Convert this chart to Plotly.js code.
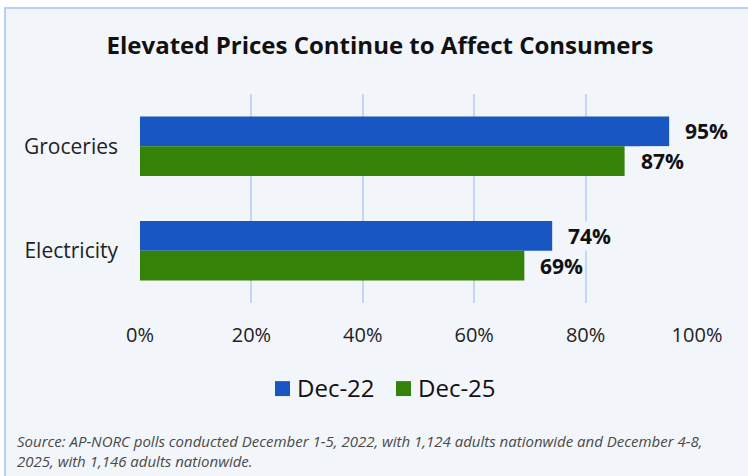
<!DOCTYPE html>
<html>
<head>
<meta charset="utf-8">
<script src="https://cdn.plot.ly/plotly-3.0.1.min.js"></script>
<style>
  html, body { margin: 0; padding: 0; background: #ffffff; width: 748px; height: 476px; overflow: hidden; }
  #frame { position: absolute; left: 4px; top: 7px; width: 760px; height: 490px; background: #f2f5f9; border-left: 2px solid #b7d0f6; border-top: 2px solid #b7d0f6; }
  #chart { position: absolute; left: 0; top: 0; width: 748px; height: 476px; }
</style>
</head>
<body>
<div id="frame"></div>
<div id="chart"></div>
<script>
const categories = ["Groceries", "Electricity"];
const seriesNames = ["Dec-22", "Dec-25"];
const dec22 = [95, 74];
const dec25 = [87, 69];
const tickValues = [0, 20, 40, 60, 80, 100];
const tickLabels = ["0%", "20%", "40%", "60%", "80%", "100%"];
const colors = ["#1857c3", "#348207"];
const titleText = "Elevated Prices Continue to Affect Consumers";
const sourceText = "Source: AP-NORC polls conducted December 1-5, 2022, with 1,124 adults nationwide and December 4-8,<br>2025, with 1,146 adults nationwide.";

const allSeries = [dec22, dec25];
const traces = allSeries.map((vals, i) => ({
  type: "bar",
  orientation: "h",
  name: seriesNames[i],
  y: categories,
  x: vals,
  marker: { color: colors[i] },
  hoverinfo: "skip",
  showlegend: false
}));

// plot-area geometry used to place the custom legend (pixels -> paper)
const PL = 140, PW = 557, PB = 303.5, PH = 210;
const px = v => (v - PL) / PW;
const py = v => (PB - v) / PH;

const annotations = [];
const shapes = [];
allSeries.forEach((vals, i) => {
  vals.forEach((v, j) => {
    annotations.push({
      x: v, y: categories[j], xref: "x", yref: "y",
      text: "<b>" + v + "%</b>",
      showarrow: false, xanchor: "left", yanchor: "middle",
      xshift: 15, yshift: i === 0 ? 15 : -15,
      font: { family: "Open Sans", size: 21, color: "#111111" },
      bgcolor: "#f2f5f9", borderpad: 0
    });
  });
});

// custom legend (square swatches)
const legendSwatchX = [275, 396];
seriesNames.forEach((name, i) => {
  const x0 = legendSwatchX[i];
  shapes.push({
    type: "rect", xref: "paper", yref: "paper",
    x0: px(x0), x1: px(x0 + 15), y0: py(397), y1: py(382),
    fillcolor: colors[i], line: { width: 0 }
  });
  annotations.push({
    xref: "paper", yref: "paper", x: px(x0 + 20), y: py(388),
    xanchor: "left", yanchor: "middle", showarrow: false,
    text: name,
    font: { family: "Open Sans", size: 24, color: "#111111" }
  });
});

annotations.push({
  xref: "paper", yref: "paper", x: px(15), y: py(430),
  xanchor: "left", yanchor: "top", align: "left", showarrow: false,
  text: "<i>" + sourceText + "</i>",
  font: { family: "Open Sans", size: 15, color: "#4a4a4a" }
});

const layout = {
  width: 748, height: 476,
  margin: { l: 140, r: 51, t: 93.5, b: 172.5 },
  paper_bgcolor: "rgba(0,0,0,0)",
  plot_bgcolor: "rgba(0,0,0,0)",
  title: {
    text: "<b>" + titleText + "</b>",
    x: 0.508, xref: "container", xanchor: "center",
    y: 0.905, yref: "container", yanchor: "middle",
    font: { family: "Open Sans", size: 24, color: "#111111" }
  },
  barmode: "group",
  bargap: 0.43,
  bargroupgap: 0,
  showlegend: false,
  xaxis: {
    range: [0, 100], tickvals: tickValues, ticktext: tickLabels,
    showgrid: true, gridcolor: "#c3d7f5", gridwidth: 2, zeroline: false,
    showline: false, ticks: "", ticklabelstandoff: 18,
    tickfont: { family: "Open Sans", size: 20, color: "#222222" },
    fixedrange: true
  },
  yaxis: {
    autorange: "reversed", showgrid: false, zeroline: false, showline: false,
    ticks: "", ticklabelstandoff: 21,
    tickfont: { family: "Open Sans", size: 21, color: "#222222" },
    fixedrange: true
  },
  shapes: shapes,
  annotations: annotations
};

Plotly.newPlot("chart", traces, layout, { displayModeBar: false, staticPlot: true });
</script>
</body>
</html>
